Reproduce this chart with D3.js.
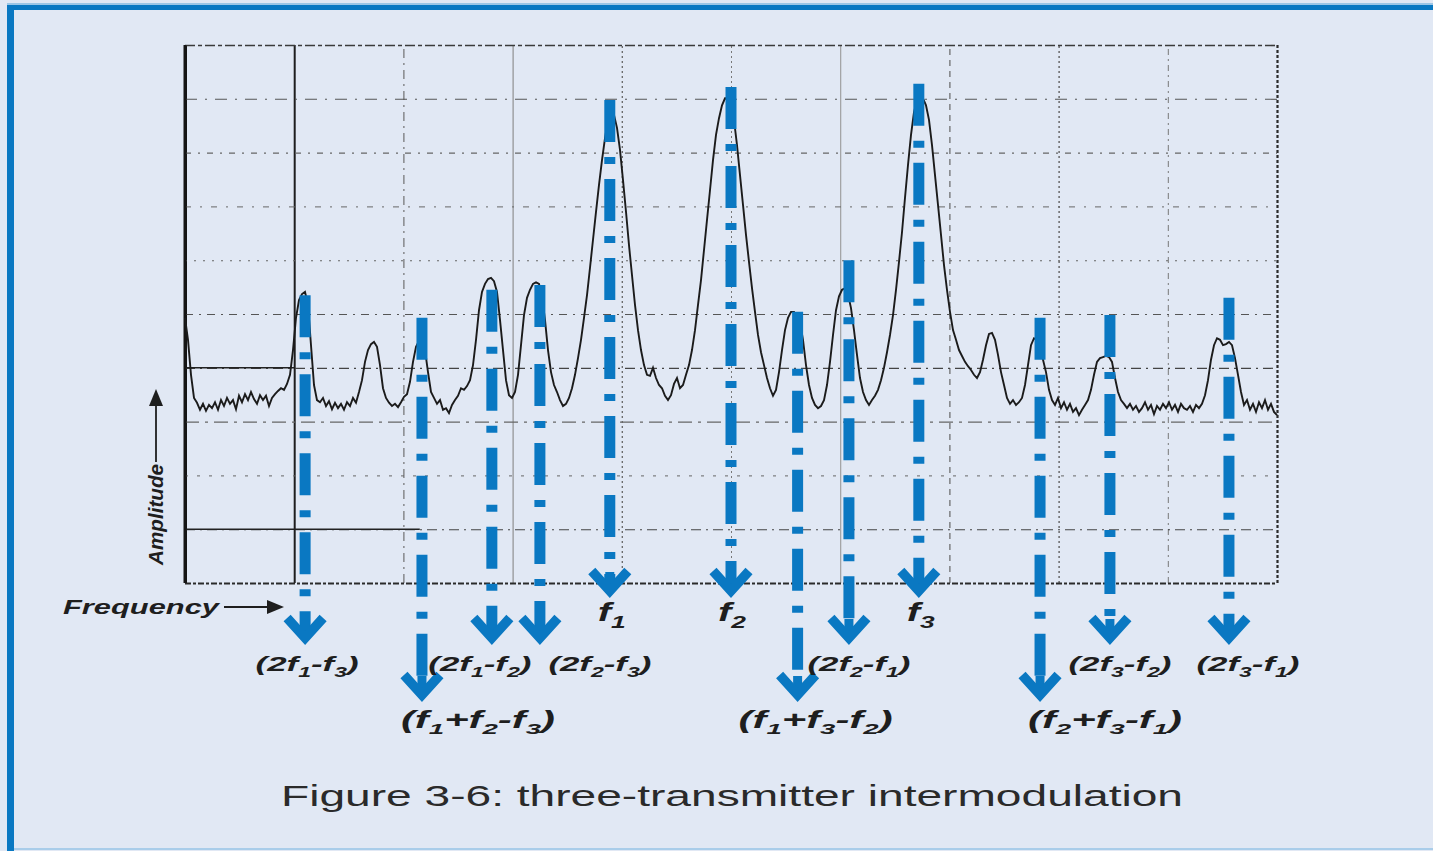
<!DOCTYPE html>
<html>
<head>
<meta charset="utf-8">
<script src="https://cdn.jsdelivr.net/npm/d3@7"></script>
<style>
  html, body { margin: 0; padding: 0; background: #e1e8f4; }
  svg { display: block; }
</style>
</head>
<body>
<svg id="chart" width="1433" height="851"></svg>
<script>
// ---------------- DATA ----------------
// Spectrum analyzer sweep: amplitude (dB rel. top graticule line), one value per sweep point,
// points evenly spaced across the displayed span (0 .. 100 span units).
const sweepSpan = [0, 100];
const traceDb = [
-50.7,-54.8,-61.3,-65.6,-66.5,-67.8,-66.7,-68.0,-66.9,-67.5,
-66.4,-67.8,-66.0,-67.1,-65.6,-66.7,-66.0,-67.7,-65.2,-66.4,
-64.9,-66.0,-64.5,-65.8,-66.7,-65.1,-66.0,-65.2,-67.1,-65.6,
-64.9,-64.3,-63.8,-64.1,-63.0,-61.3,-56.7,-50.7,-47.4,-46.3,
-45.9,-48.3,-55.8,-63.2,-66.0,-66.4,-65.6,-67.1,-66.2,-67.7,
-66.5,-67.5,-66.7,-67.8,-66.4,-67.1,-65.6,-66.5,-64.5,-62.3,
-58.9,-56.7,-55.6,-55.2,-56.1,-59.5,-63.8,-65.6,-66.5,-67.1,
-66.7,-67.3,-66.4,-65.4,-64.9,-62.6,-58.9,-56.1,-55.0,-54.8,
-56.7,-60.8,-64.5,-65.6,-66.7,-66.0,-67.8,-67.5,-68.4,-66.9,
-66.0,-65.2,-63.8,-64.1,-63.4,-62.3,-59.5,-54.8,-49.3,-45.9,
-44.4,-43.5,-43.3,-43.9,-45.9,-51.1,-56.7,-62.3,-65.1,-65.6,
-64.5,-61.3,-55.8,-50.2,-47.0,-45.5,-44.4,-44.1,-44.4,-46.7,
-51.1,-56.7,-60.8,-63.2,-64.5,-66.0,-67.1,-66.7,-65.6,-63.8,
-61.3,-58.2,-54.8,-50.7,-46.5,-41.4,-36.2,-31.0,-26.0,-21.4,
-17.3,-13.9,-12.5,-13.0,-15.4,-19.5,-25.1,-31.0,-37.2,-42.8,
-48.3,-53.0,-56.7,-59.5,-61.3,-61.5,-60.0,-61.9,-63.2,-63.8,
-65.2,-66.0,-65.1,-63.0,-61.9,-63.8,-63.2,-61.3,-59.5,-56.7,
-53.0,-48.3,-43.7,-38.1,-32.5,-27.0,-21.4,-16.7,-13.6,-11.2,
-9.9,-9.9,-11.0,-13.9,-18.6,-24.2,-29.7,-35.3,-40.3,-45.2,
-49.6,-53.9,-57.1,-59.5,-61.9,-63.8,-65.2,-64.1,-60.8,-56.7,
-53.0,-50.7,-49.6,-49.6,-50.4,-51.5,-54.8,-59.5,-63.2,-65.6,
-66.9,-67.5,-67.1,-66.0,-63.2,-58.9,-53.9,-49.3,-46.7,-45.5,
-45.2,-46.3,-48.9,-53.0,-57.6,-61.9,-64.5,-66.0,-66.9,-66.0,
-65.2,-64.1,-62.3,-60.0,-57.1,-53.9,-50.2,-45.5,-40.3,-34.8,
-28.4,-22.3,-16.7,-12.5,-10.2,-9.5,-9.9,-11.2,-13.9,-18.6,
-24.2,-29.7,-35.3,-40.9,-45.5,-49.6,-53.0,-54.8,-56.7,-57.8,
-58.9,-59.7,-60.4,-61.3,-61.9,-60.8,-58.5,-55.8,-53.7,-53.5,
-54.8,-57.6,-60.8,-63.2,-65.6,-66.7,-66.0,-66.9,-66.4,-65.6,
-63.2,-59.5,-55.8,-54.5,-54.8,-56.3,-58.5,-60.8,-64.1,-66.0,
-66.9,-65.6,-67.5,-66.4,-67.8,-66.7,-68.2,-67.5,-68.8,-67.8,
-66.9,-66.0,-64.1,-61.3,-58.9,-58.2,-58.0,-57.8,-58.0,-58.9,
-61.9,-64.5,-66.0,-66.7,-67.5,-66.7,-67.8,-67.1,-68.2,-67.5,
-66.4,-67.8,-66.9,-68.6,-67.1,-67.8,-66.7,-67.5,-66.4,-67.8,
-66.9,-68.2,-66.7,-67.5,-67.8,-67.1,-68.2,-66.9,-67.5,-66.7,
-65.1,-62.3,-58.5,-55.8,-54.5,-54.8,-55.8,-55.6,-55.2,-55.8,
-58.2,-61.3,-64.5,-66.9,-66.0,-67.8,-66.7,-68.2,-66.4,-67.5,
-66.0,-67.8,-66.7,-68.2,-68.8
];

// Graticule: 10 x 10 divisions
const gridFreqs = [0, 10, 20, 30, 40, 50, 60, 70, 80, 90, 100];
const gridLevels = [0, -10, -20, -30, -40, -50, -60, -70, -80, -90, -100];

// Marked products (carriers and 3rd-order intermodulation products)
const productLabels = ["(2f1-f3)", "(f1+f2-f3)", "(2f1-f2)", "(2f2-f3)", "f1", "f2",
                       "(f1+f3-f2)", "(2f2-f1)", "f3", "(f2+f3-f1)", "(2f3-f2)", "(2f3-f1)"];
const productFreqs  = [11.0, 21.7, 28.1, 32.5, 38.9, 50.0, 56.1, 60.8, 67.2, 78.3, 84.7, 95.6];
const productLevels = [-46.5, -50.7, -45.5, -44.6, -10.2, -7.8, -49.6, -40.0, -7.2, -50.7, -50.2, -47.0];
const productTypes  = ["2A-B", "A+B-C", "2A-B", "2A-B", "carrier", "carrier",
                       "A+B-C", "2A-B", "carrier", "A+B-C", "2A-B", "2A-B"];

const xAxisTitle = "Frequency";
const yAxisTitle = "Amplitude";
const caption = "Figure 3-6: three-transmitter intermodulation";

// ---------------- LAYOUT ----------------
const W = 1433, H = 851;
const plot = { left: 185, right: 1277, top: 45, bottom: 583 };
const blue = "#0a78c2";
const rowTipY   = { "carrier": 598, "2A-B": 645, "A+B-C": 702 };
const rowBase   = { "carrier": 621, "2A-B": 671, "A+B-C": 728 };
const rowFont   = { "carrier": 25, "2A-B": 21, "A+B-C": 23 };
const rowWidth  = { "carrier": 28, "2A-B": 103, "A+B-C": 154 };
const labelDx   = [2, 56, -12, 60, 2, 1, 18, 10, 2, 65, 10, 19];

const svg = d3.select("#chart");

// background and frame
svg.append("rect").attr("x", 0).attr("y", 0).attr("width", W).attr("height", H).attr("fill", "#e1e8f4");
svg.append("rect").attr("x", 7).attr("y", 3).attr("width", W - 7).attr("height", 2).attr("fill", "#9cc6e6");
svg.append("rect").attr("x", 7).attr("y", 5).attr("width", W - 7).attr("height", 5).attr("fill", blue);
svg.append("rect").attr("x", 7).attr("y", 5).attr("width", 7).attr("height", H - 5).attr("fill", blue);
svg.append("rect").attr("x", 14).attr("y", H - 3).attr("width", W - 14).attr("height", 2).attr("fill", "#a9cdea");

const x = d3.scaleLinear().domain(sweepSpan).range([plot.left, plot.right]);
const y = d3.scaleLinear().domain([-100, 0]).range([plot.bottom, plot.top]);

// ---------- graticule via d3 axes ----------
const vStyles = [
  { s: "#151515", w: 3.0, d: null },
  { s: "#1e1e1e", w: 2.0, d: null },
  { s: "#666", w: 1.1, d: "9,5,2,5" },
  { s: "#888", w: 1.1, d: null },
  { s: "#666", w: 1.3, d: "2,3" },
  { s: "#777", w: 1.0, d: "2,3" },
  { s: "#999", w: 1.1, d: null },
  { s: "#666", w: 1.2, d: "6,5" },
  { s: "#555", w: 1.3, d: "2,3" },
  { s: "#777", w: 1.0, d: "6,4,2,4" },
  { s: "#2a2a2a", w: 2.2, d: "3,2" }
];
const hStyles = [
  { s: "#3a3a3a", w: 1.6, d: "10,3,4,3" },
  { s: "#555", w: 1.1, d: "12,8,2,8" },
  { s: "#666", w: 1.1, d: "6,7,2,7" },
  { s: "#666", w: 1.0, d: "6,9,2,9" },
  { s: "#666", w: 1.1, d: "2,7" },
  { s: "#555", w: 1.1, d: "8,6,2,6" },
  { s: "#444", w: 1.2, d: "10,5,2,5" },
  { s: "#666", w: 1.1, d: "14,6,3,6" },
  { s: "#666", w: 1.0, d: "3,9" },
  { s: "#444", w: 1.1, d: "10,5,2,5" },
  { s: "#2a2a2a", w: 2.0, d: "6,2,3,2" }
];

const gx = svg.append("g").attr("transform", `translate(0,${plot.bottom})`)
  .call(d3.axisBottom(x).tickValues(gridFreqs).tickSize(-(plot.bottom - plot.top)).tickFormat(""));
gx.select(".domain").remove();
gx.selectAll(".tick line").each(function (d, i) {
  const st = vStyles[i];
  d3.select(this).attr("stroke", st.s).attr("stroke-width", st.w).attr("stroke-dasharray", st.d);
});

const gy = svg.append("g").attr("transform", `translate(${plot.left},0)`)
  .call(d3.axisLeft(y).tickValues(gridLevels).tickSize(-(plot.right - plot.left)).tickFormat(""));
gy.select(".domain").remove();
gy.selectAll(".tick line").each(function (d, i) {
  const st = hStyles[gridLevels.indexOf(d)];
  d3.select(this).attr("stroke", st.s).attr("stroke-width", st.w).attr("stroke-dasharray", st.d);
});

// solid portions of two graticule lines
svg.append("line").attr("x1", x(0)).attr("x2", x(10)).attr("y1", y(-60)).attr("y2", y(-60))
  .attr("stroke", "#222").attr("stroke-width", 1.6);
svg.append("line").attr("x1", x(0)).attr("x2", x(21.5)).attr("y1", y(-90)).attr("y2", y(-90))
  .attr("stroke", "#222").attr("stroke-width", 1.4);
// left axis redrawn on top
svg.append("line").attr("x1", x(0)).attr("x2", x(0)).attr("y1", y(0)).attr("y2", y(-100))
  .attr("stroke", "#151515").attr("stroke-width", 3);

// ---------- trace ----------
const stepF = (sweepSpan[1] - sweepSpan[0]) / (traceDb.length - 1);
const line = d3.line()
  .x((d, i) => x(sweepSpan[0] + i * stepF))
  .y(d => y(d));
svg.append("path").datum(traceDb).attr("d", line)
  .attr("fill", "none").attr("stroke", "#1b1b1b").attr("stroke-width", 1.9)
  .attr("stroke-linejoin", "miter");

// ---------- arrows ----------
const arrows = svg.append("g");
productFreqs.forEach((f, i) => {
  const t = productTypes[i];
  const ax = x(f);
  const top = y(productLevels[i]);
  const tip = rowTipY[t];
  arrows.append("line").attr("x1", ax).attr("x2", ax).attr("y1", top).attr("y2", tip - 8)
    .attr("stroke", blue).attr("stroke-width", 11).attr("stroke-dasharray", "42,15,7,15");
  arrows.append("line").attr("x1", ax).attr("x2", ax).attr("y1", tip - 26).attr("y2", tip - 6)
    .attr("stroke", blue).attr("stroke-width", 9);
  arrows.append("path")
    .attr("d", `M${ax - 18},${tip - 27}L${ax},${tip - 7}L${ax + 18},${tip - 27}`)
    .attr("fill", "none").attr("stroke", blue).attr("stroke-width", 9.5)
    .attr("stroke-linejoin", "miter").attr("stroke-miterlimit", 10);
});

// ---------- labels with subscripts ----------
function richText(g, str, fs) {
  const segs = [];
  for (let k = 0; k < str.length; k++) {
    const c = str[k];
    const sub = /\d/.test(c) && str[k - 1] === "f";
    if (segs.length && segs[segs.length - 1].sub === sub) segs[segs.length - 1].t += c;
    else segs.push({ t: c, sub });
  }
  const shift = fs * 0.28;
  let prevSub = false;
  segs.forEach(s => {
    const ts = g.append("tspan").text(s.t);
    if (s.sub) { ts.attr("font-size", fs * 0.66).attr("dy", shift); }
    else if (prevSub) { ts.attr("dy", -shift); }
    prevSub = s.sub;
  });
}

productLabels.forEach((lab, i) => {
  const t = productTypes[i];
  const cx = x(productFreqs[i]) + labelDx[i];
  const w = rowWidth[t];
  const fs = rowFont[t];
  const txt = svg.append("text")
    .attr("x", cx - w / 2).attr("y", rowBase[t])
    .attr("font-family", "'Liberation Sans', Arial, sans-serif")
    .attr("font-weight", "bold").attr("font-style", "italic")
    .attr("font-size", fs).attr("fill", "#1e1e1e")
    .attr("textLength", w).attr("lengthAdjust", "spacingAndGlyphs");
  richText(txt, lab, fs);
});

// ---------- axis titles ----------
svg.append("text").attr("x", 63).attr("y", 614)
  .attr("font-family", "'Liberation Sans', Arial, sans-serif")
  .attr("font-weight", "bold").attr("font-style", "italic").attr("font-size", 20)
  .attr("fill", "#1e1e1e").attr("textLength", 156).attr("lengthAdjust", "spacingAndGlyphs")
  .text(xAxisTitle);
svg.append("line").attr("x1", 224).attr("x2", 270).attr("y1", 607).attr("y2", 607)
  .attr("stroke", "#1e1e1e").attr("stroke-width", 1.8);
svg.append("path").attr("d", "M267,600L284,607L267,614Z").attr("fill", "#1e1e1e");

svg.append("text").attr("transform", "translate(163,565) rotate(-90)")
  .attr("font-family", "'Liberation Sans', Arial, sans-serif")
  .attr("font-weight", "bold").attr("font-style", "italic").attr("font-size", 21)
  .attr("fill", "#1e1e1e").attr("textLength", 101).attr("lengthAdjust", "spacingAndGlyphs")
  .text(yAxisTitle);
svg.append("line").attr("x1", 156).attr("x2", 156).attr("y1", 462).attr("y2", 402)
  .attr("stroke", "#1e1e1e").attr("stroke-width", 1.8);
svg.append("path").attr("d", "M149,406L156,389L163,406Z").attr("fill", "#1e1e1e");

// ---------- caption ----------
svg.append("text").attr("x", 281).attr("y", 806)
  .attr("font-family", "'Liberation Sans', Arial, sans-serif")
  .attr("font-size", 30).attr("fill", "#2a2a2a")
  .attr("textLength", 902).attr("lengthAdjust", "spacingAndGlyphs")
  .text(caption);
</script>
</body>
</html>
